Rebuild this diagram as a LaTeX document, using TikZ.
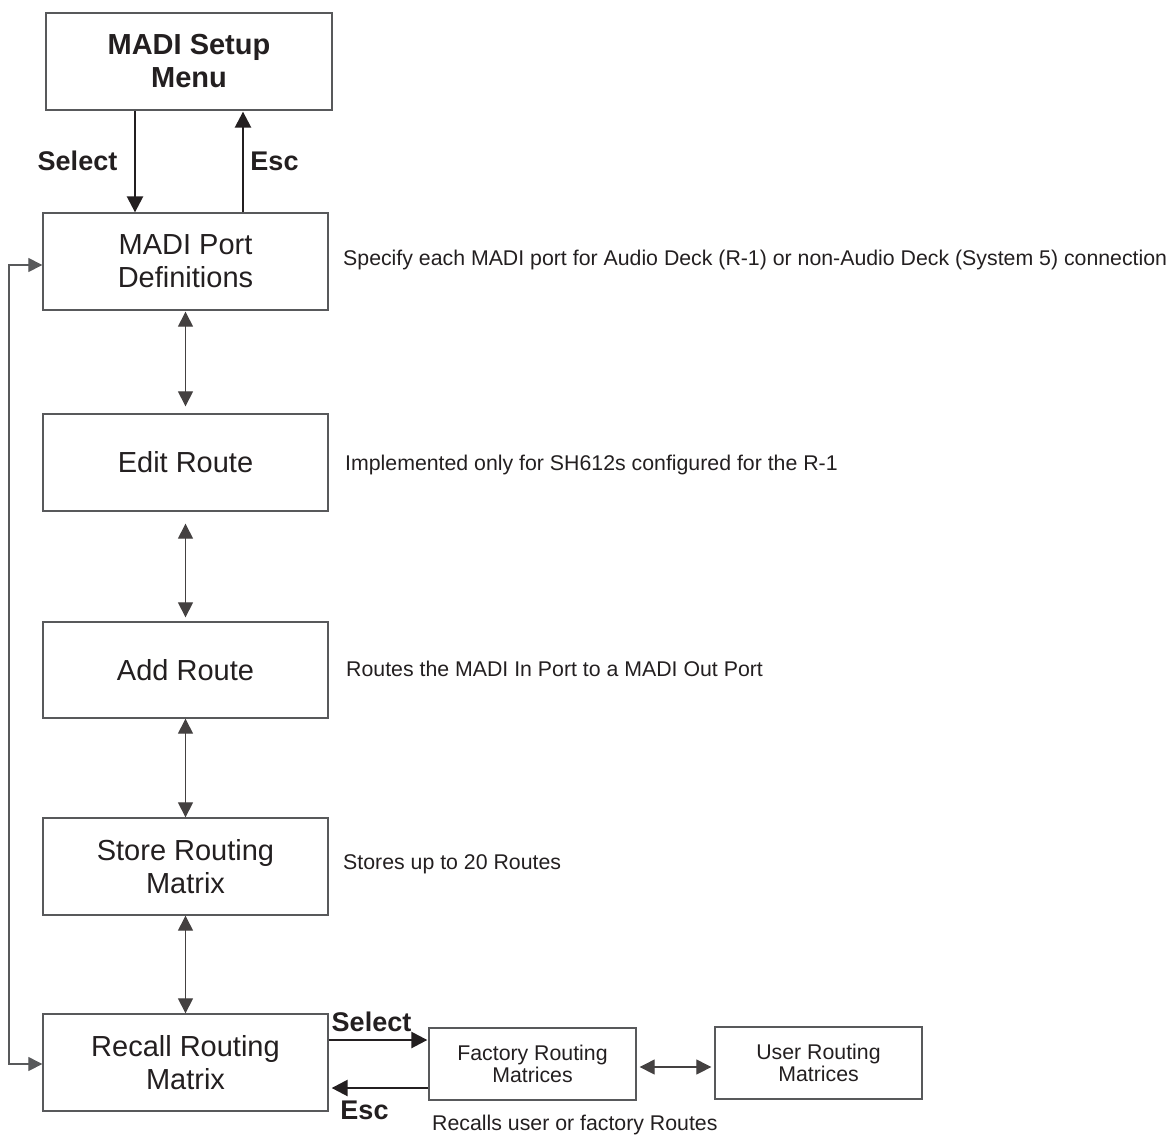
\documentclass[tikz,border=0pt]{standalone}
\usepackage{fontspec}
\setmainfont{Liberation Sans}
\usetikzlibrary{arrows.meta}
\definecolor{ink}{HTML}{231F20}
\definecolor{edge}{HTML}{58595B}
\begin{document}
\begin{tikzpicture}[x=1pt,y=-1pt,
  box/.style={draw=edge, line width=1.3pt, text=ink, align=center, inner sep=0pt,
    minimum width=285, minimum height=97, font=\fontsize{29}{33}\selectfont},
  smallbox/.style={draw=edge, line width=1.3pt, text=ink, align=center, inner sep=0pt,
    minimum width=207, minimum height=72, font=\fontsize{21.3}{22}\selectfont},
  note/.style={anchor=west, text=ink, inner sep=0pt, text height=15pt, text depth=4pt,
    font=\fontsize{21.3}{25}\selectfont},
  lbl/.style={text=ink, inner sep=0pt, font=\fontsize{27}{30}\selectfont\bfseries},
  link/.style={draw=ink!85, line width=1.1pt,
    {Triangle[length=15pt,width=15pt]}-{Triangle[length=15pt,width=15pt]}},
  loop/.style={draw=edge, line width=1.1pt,
    {Triangle[length=14pt,width=14pt]}-{Triangle[length=14pt,width=14pt]}},
  heavy/.style={draw=ink, line width=2.5pt, -{Triangle[length=16pt,width=16pt]}},
]
\useasboundingbox (0,0) rectangle (1169,1135);

% boxes
\node[box, minimum width=286, font=\fontsize{29}{33}\selectfont\bfseries] (menu) at (189,61.5) {MADI Setup\\Menu};
\node[box] (port) at (185.5,261.5) {MADI Port\\Definitions};
\node[box] (edit) at (185.5,462.5) {Edit Route};
\node[box, minimum height=96] (add) at (185.5,670) {Add Route};
\node[box] (store) at (185.5,866.5) {Store Routing\\Matrix};
\node[box] (recall) at (185.5,1062.5) {Recall Routing\\Matrix};
\node[smallbox] (factory) at (532.5,1064) {Factory Routing\\Matrices};
\node[smallbox] (user) at (818.5,1063) {User Routing\\Matrices};

% helper coordinates
\coordinate (xsel) at (135,0);
\coordinate (xesc) at (243,0);
\coordinate (xloop) at (9,0);
\coordinate (yloopa) at (0,265);
\coordinate (yloopb) at (0,1064);
\coordinate (ysel) at (0,1040);
\coordinate (yesc) at (0,1088);
\coordinate (ymid) at (0,1067);

% top select / esc
\draw[heavy] (menu.south -| xsel) -- (port.north -| xsel);
\draw[heavy] (port.north -| xesc) -- ([yshift=-1pt]menu.south -| xesc);
\node[lbl] (sel1) at (77.5,161) {Select};
\node[lbl] (esc1) at (274.5,161) {Esc};

% vertical double arrows
\draw[link, shorten <=1pt, shorten >=7pt] (port.south) -- (edit.north);
\draw[link, shorten <=12pt, shorten >=4pt] (edit.south) -- (add.north);
\draw[link] (add.south) -- (store.north);
\draw[link] (store.south) -- (recall.north);

% left loop
\draw[loop] (port.west |- yloopa) -- (xloop |- yloopa) -- (xloop |- yloopb) -- (recall.west |- yloopb);

% bottom select / esc
\draw[heavy] (recall.east |- ysel) -- ([xshift=-1pt]factory.west |- ysel);
\draw[heavy] (factory.west |- yesc) -- ([xshift=3pt]recall.east |- yesc);
\node[lbl] (sel2) at (371.5,1022) {Select};
\node[lbl] (esc2) at (364.5,1110) {Esc};

% factory <-> user
\draw[link, shorten <=3pt, shorten >=3pt] (factory.east |- ymid) -- (user.west |- ymid);

% notes
\node[note] (n1) at (343,260) {Specify each MADI port for Audio Deck (R-1) or non-Audio Deck (System 5) connection};
\node[note] (n2) at (345,465) {Implemented only for SH612s configured for the R-1};
\node[note] (n3) at (346,671) {Routes the MADI In Port to a MADI Out Port};
\node[note] (n4) at (343,864) {Stores up to 20 Routes};
\node[note] (n5) at (432,1125) {Recalls user or factory Routes};
\end{tikzpicture}
\end{document}
